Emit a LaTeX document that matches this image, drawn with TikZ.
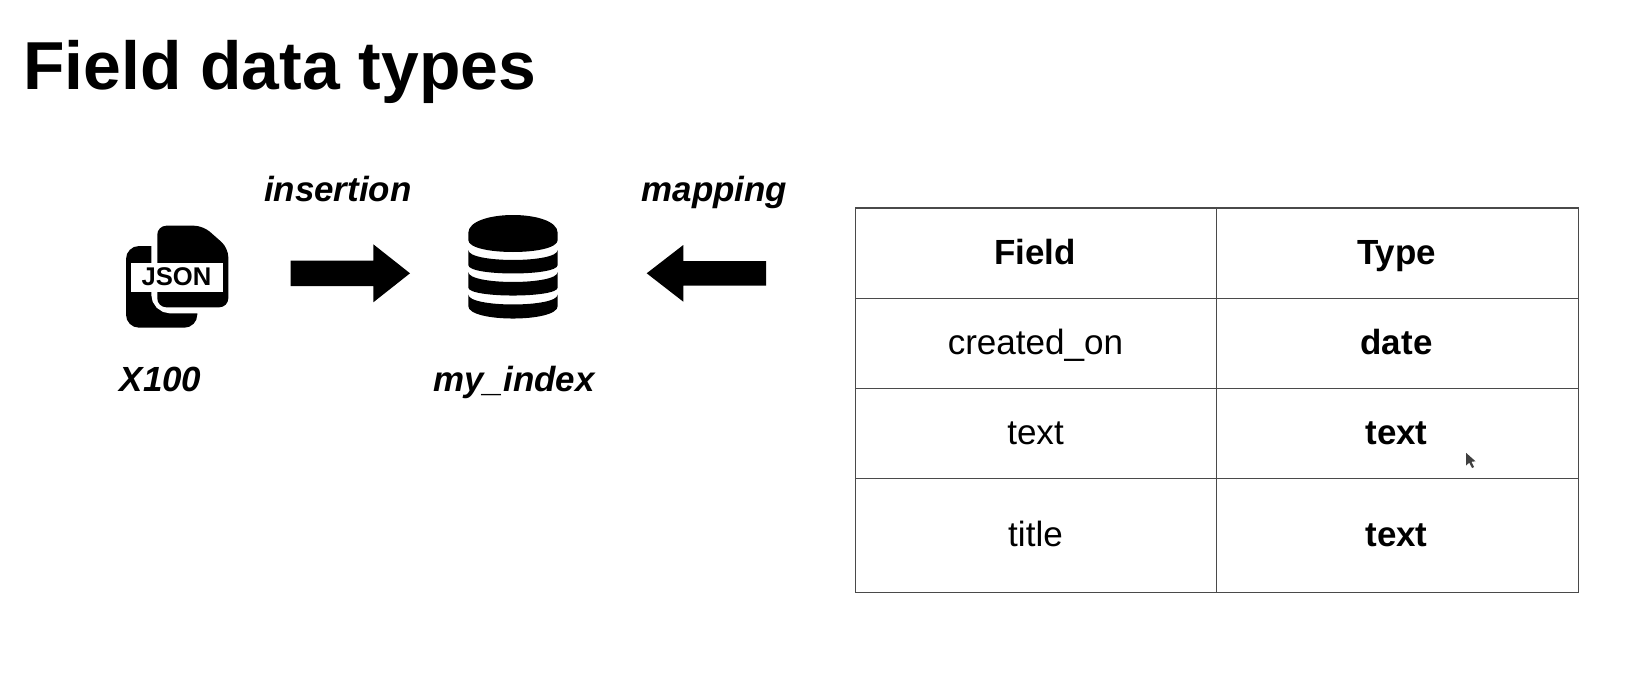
\documentclass[tikz,border=0pt]{standalone}
\usepackage{fontspec}
\setmainfont{Liberation Sans}
\definecolor{gridc}{HTML}{4A4A4A}
\tikzset{
  x=0.75pt,y=-0.75pt,
  lbl/.style={anchor=base,inner sep=0pt,text=black},
  titletext/.style={lbl,anchor=base west,font=\bfseries\fontsize{50.9pt}{56pt}\selectfont},
  caption/.style={lbl,font=\bfseries\itshape\fontsize{26.2pt}{30pt}\selectfont},
  cellhead/.style={lbl,font=\bfseries\fontsize{26.2pt}{30pt}\selectfont},
  cell/.style={lbl,font=\fontsize{26.3pt}{30pt}\selectfont},
  celltype/.style={lbl,font=\bfseries\fontsize{26.2pt}{30pt}\selectfont},
  gridline/.style={draw=gridc,line width=0.9pt},
  blockshape/.style={fill=black},
}
\begin{document}
\begin{tikzpicture}
\useasboundingbox (0,0) rectangle (1634,688);
\fill[white] (0,0) rectangle (1634,688);

\node[titletext] (title) at (23,90) {Field data types};

% JSON icon
\fill[blockshape,rounded corners=13*0.75pt] (126,246) -- (197.3,246) -- (197.3,327.7) -- (126,327.7) -- cycle;
\path[fill=black,draw=white,line width=9pt,rounded corners=13*0.75pt]
  (157.3,225.7) -- (203,225.7) -- (228.3,248) -- (228.3,307.3) -- (157.3,307.3) -- cycle;
\fill[blockshape,rounded corners=9*0.75pt] (157.3,225.7) -- (203,225.7) -- (228.3,248) -- (228.3,307.3) -- (157.3,307.3) -- cycle;
\fill[white] (130.5,262.7) rectangle (223,291.7);
\node[lbl,font=\bfseries\fontsize{19.2pt}{20pt}\selectfont] (json) at (176.5,285) {JSON};

% right block arrow
\fill[blockshape] (290.7,260.7) -- (373.3,260.7) -- (373.3,244.3) -- (410,273.3) -- (373.3,302.3) -- (373.3,286) -- (290.7,286) -- cycle;

% database icon
\fill[blockshape] (468.3,233) .. controls (468.3,209) and (557.7,209) .. (557.7,233)
  -- (557.7,240) .. controls (557.7,256) and (468.3,256) .. (468.3,240) -- cycle;
\fill[blockshape] (468.3,250) .. controls (468.3,263.3) and (557.7,263.3) .. (557.7,250)
  -- (557.7,265) .. controls (557.7,276.3) and (468.3,276.3) .. (468.3,265) -- cycle;
\fill[blockshape] (468.3,272) .. controls (468.3,285.3) and (557.7,285.3) .. (557.7,272)
  -- (557.7,287.5) .. controls (557.7,298.2) and (468.3,298.2) .. (468.3,287.5) -- cycle;
\fill[blockshape] (468.3,294.5) .. controls (468.3,307.8) and (557.7,307.8) .. (557.7,294.5)
  -- (557.7,306) .. controls (557.7,322.7) and (468.3,322.7) .. (468.3,306) -- cycle;

% left block arrow
\fill[blockshape] (766,261) -- (683.3,261) -- (683.3,245) -- (646.7,273.3) -- (683.3,301.7) -- (683.3,285.7) -- (766,285.7) -- cycle;

% captions
\node[caption] (insertion) at (337.8,201) {insertion};
\node[caption] (mapping) at (714.3,201) {mapping};
\node[caption] (x100) at (160.5,391.5) {X100};
\node[caption] (myindex) at (514,391.5) {my\_index};

% table grid
\draw[gridline] (855.3,208) rectangle (1578.3,592.3);
\draw[gridline] (855.3,298.3) -- (1578.3,298.3);
\draw[gridline] (855.3,388.3) -- (1578.3,388.3);
\draw[gridline] (855.3,478.3) -- (1578.3,478.3);
\draw[gridline] (1216.7,208) -- (1216.7,592.3);

% table text
\node[cellhead] (h1) at (1035,264) {Field};
\node[cellhead] (h2) at (1396.5,264) {Type};
\node[cell] (c1) at (1035.5,354.3) {created\_on};
\node[celltype] (t1) at (1396.5,354.3) {date};
\node[cell] (c2) at (1035.5,444) {text};
\node[celltype] (t2) at (1396.5,444) {text};
\node[cell] (c3) at (1035.5,546.7) {title};
\node[celltype] (t3) at (1396.5,546.7) {text};

% mouse pointer
\fill[black!75] (1466,452.8) -- (1466,465.5) -- (1469.3,462.7) -- (1472,468) -- (1474,467) -- (1471.5,461.8) -- (1475.5,461.3) -- cycle;
\end{tikzpicture}
\end{document}
